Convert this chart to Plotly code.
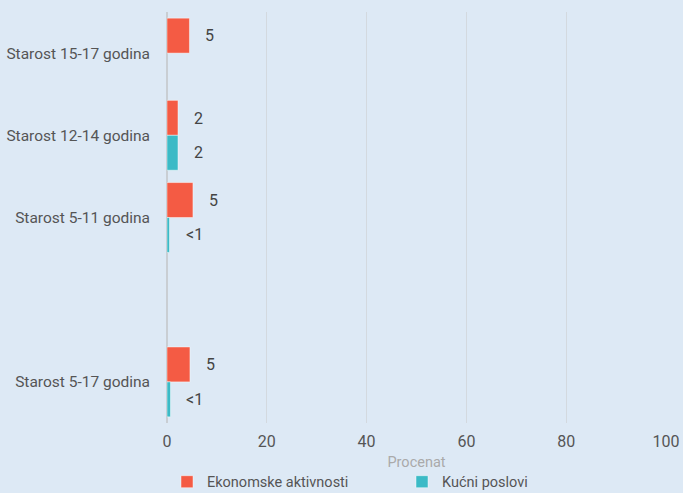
import plotly.graph_objects as go

categories = ["Starost 15-17 godina", "Starost 12-14 godina", "Starost 5-11 godina", " ", "Starost 5-17 godina"]
econ_values = [4.5, 2.2, 5.2, None, 4.6]
econ_labels = ["5", "2", "5", "", "5"]
dom_values = [None, 2.2, 0.5, None, 0.7]
dom_labels = ["", "2", "<1", "", "<1"]
x_ticks = [0, 20, 40, 60, 80, 100]

RED = "#F45B44"
CYAN = "#3BBAC6"
BG = "#DDE9F5"
FONT = "Roboto, Liberation Sans, sans-serif"

fig = go.Figure()
fig.add_trace(go.Bar(
    y=categories, x=econ_values, orientation="h", name="Ekonomske aktivnosti",
    marker=dict(color=RED, line=dict(color="rgba(255,255,255,0.45)", width=1)),
    hoverinfo="skip",
))
fig.add_trace(go.Bar(
    y=categories, x=dom_values, orientation="h", name="Kućni poslovi",
    marker=dict(color=CYAN, line=dict(color="rgba(255,255,255,0.45)", width=1)),
    hoverinfo="skip",
))

# value labels placed just past the end of each bar
annotations = []
for vals, labels, off in [(econ_values, econ_labels, -0.21), (dom_values, dom_labels, 0.21)]:
    for i, (v, t) in enumerate(zip(vals, labels)):
        if v is None or t == "":
            continue
        annotations.append(dict(
            x=v, y=i + off, xref="x", yref="y", text=t, showarrow=False,
            xanchor="left", yanchor="middle", xshift=14,
            font=dict(family=FONT, size=16, color="#444444"),
        ))

fig.update_layout(
    width=683, height=493,
    paper_bgcolor=BG, plot_bgcolor=BG,
    barmode="group", bargap=0.15, bargroupgap=0,
    margin=dict(l=167, r=17, t=12, b=70, autoexpand=False),
    font=dict(family=FONT, size=15, color="#555555"),
    annotations=annotations,
    showlegend=True,
    legend=dict(
        orientation="h", x=0.0, y=-0.143, xanchor="left", yanchor="middle",
        font=dict(family=FONT, size=14.5, color="#555555"),
        entrywidth=190, itemwidth=30, traceorder="normal",
        bgcolor="rgba(0,0,0,0)",
    ),
    xaxis=dict(
        range=[0, 100], tickvals=x_ticks, showgrid=True,
        gridcolor="#D3D9DF", gridwidth=1,
        zeroline=True, zerolinecolor="#C9CED3", zerolinewidth=2,
        showline=False, ticks="", ticklabelstandoff=7,
        tickfont=dict(family=FONT, size=16, color="#555555"),
        title=dict(text="Procenat", font=dict(family=FONT, size=14.5, color="#AAAAAA"), standoff=6),
        fixedrange=True,
    ),
    yaxis=dict(
        type="category", categoryorder="array", categoryarray=categories,
        autorange="reversed", showgrid=False, zeroline=False, ticks="",
        tickfont=dict(family=FONT, size=15.5, color="#555555"),
        ticklabelstandoff=16, fixedrange=True,
    ),
)

fig.write_html("out.html", config={"displayModeBar": False},
               post_script="document.body.style.margin='0';document.body.style.background='#DDE9F5';")
